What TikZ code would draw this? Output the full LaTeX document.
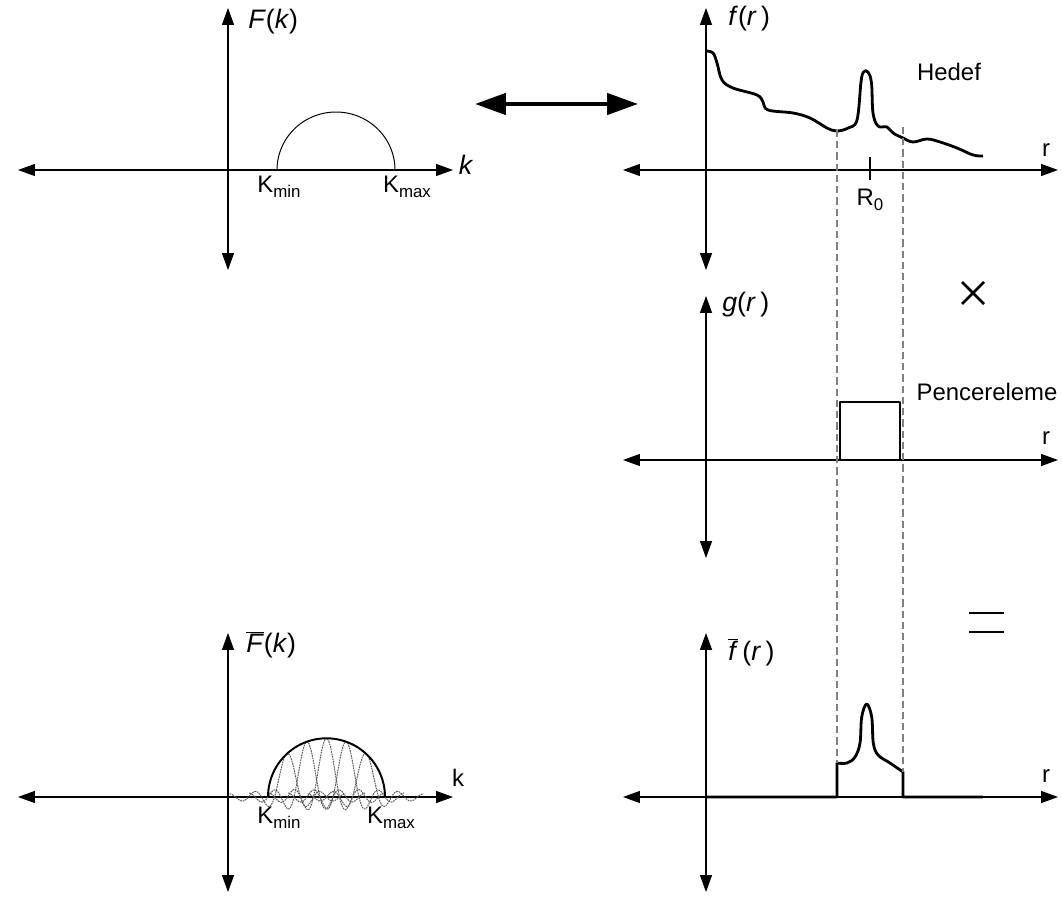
\documentclass[tikz,border=0pt]{standalone}
\usepackage{fontspec}
\setmainfont{Liberation Sans}
\usetikzlibrary{arrows.meta}

\newcommand{\Ksub}[1]{K\raisebox{-0.4ex}{\fontsize{12}{12}\selectfont #1}}

\tikzset{
  axis/.style={line width=0.8pt, {Triangle[length=12pt,width=8.5pt]}-{Triangle[length=12pt,width=8.5pt]}},
  signal/.style={line width=2pt, line join=round},
  window/.style={gray, dash pattern=on 5pt off 3pt, line width=0.8pt},
  sincline/.style={black!65, dash pattern=on 1.2pt off 0.6pt, line width=0.7pt},
  opline/.style={line width=1.8pt},
  lbl/.style={font=\fontsize{17}{18}\selectfont, inner sep=0pt},
  biglbl/.style={font=\fontsize{19}{20}\selectfont, inner sep=0pt},
}

\begin{document}
\begin{tikzpicture}[x=0.025cm, y=0.025cm]
\useasboundingbox (0,0) rectangle (1063,896);

% F(k)
\begin{scope}[shift={(228,726)}]
  \draw[axis] (-210,0) -- (225,0);
  \draw[axis] (0,-100) -- (0,162);
  \draw[line width=0.7pt] plot[domain=0:180, samples=60] ({108+59*cos(\x)},{58*sin(\x)});
  \node[biglbl, anchor=west] (Fk) at (20,148) {\textit{F}(\textit{k})};
  \node[biglbl] (kTL) at (238,5) {\textit{k}};
  \node[lbl] (kminTL) at (51,-17) {\Ksub{min}};
  \node[lbl] (kmaxTL) at (179,-17) {\Ksub{max}};
\end{scope}

% f(r)
\begin{scope}[shift={(706,726)}]
  \draw[axis] (-83,0) -- (352,0);
  \draw[axis] (0,-100) -- (0,162);
  \draw[signal] plot[smooth, tension=0.6] coordinates {(0,119) (7,117) (11,107) (16,90) (27,82)
    (51,75) (57,68) (62,60) (87,57) (104,52) (121,42) (131,39) (142,42) (151,50) (155,88)
    (157.5,98) (162,98) (165.5,87) (167,57) (172,44) (181,43) (187,37) (197,32) (207,28)
    (221,31) (234,28) (251,22) (267,15) (277,14)};
  \draw[line width=1.6pt] (164,13) -- (164,-10);
  \node[biglbl, anchor=west] (fr) at (22,151) {\textit{f}(\textit{r}\,)};
  \node[lbl] (hedef) at (243,98) {Hedef};
  \node[lbl] (rTR) at (340,20) {r};
  \node[lbl] (Rzero) at (164,-30) {R\raisebox{-0.4ex}{\fontsize{12}{12}\selectfont 0}};
\end{scope}

% g(r)
\begin{scope}[shift={(706,436)}]
  \draw[axis] (-83,0) -- (352,0);
  \draw[axis] (0,-98) -- (0,164);
  \draw[signal] (134,0) -- (134,58) -- (194,58) -- (194,0);
  \node[biglbl, anchor=west] (gr) at (16,155) {\textit{g}(\textit{r}\,)};
  \node[lbl] (pencere) at (281,68) {Pencereleme};
  \node[lbl] (rMR) at (340,22) {r};
\end{scope}

% Fbar(k)
\begin{scope}[shift={(228,99)}]
  \draw[axis] (-210,0) -- (225,0);
  \draw[axis] (0,-95) -- (0,164);
  \foreach \ctr in {-39,-19.5,0,19.5,39}
    \draw[sincline] plot[domain=-4.45:4.45, samples=90]
      ({98.5+(\ctr)+13*\x},{58.7*sqrt(1-((\ctr)/58.5)^2)*sin(180*\x)/(pi*\x)});
  \draw[line width=1.4pt] plot[domain=0:180, samples=60] ({98.5+58.5*cos(\x)},{58.7*sin(\x)});
  \node[biglbl, anchor=west] (Fbar) at (18,152) {$\overline{\mbox{\textit{F}}}$(\textit{k})};
  \node[lbl] (kBL) at (230,19) {k};
  \node[lbl] (kminBL) at (51,-21) {\Ksub{min}};
  \node[lbl] (kmaxBL) at (163,-21) {\Ksub{max}};
\end{scope}

% fbar(r)
\begin{scope}[shift={(706,99)}]
  \draw[axis] (-83,0) -- (352,0);
  \draw[axis] (0,-95) -- (0,164);
  \draw[signal] (0,0) -- (131,0) -- (131,34) -- plot[smooth, tension=0.6] coordinates {(131,34)
    (141,34) (149,40) (154,54) (155.7,80) (160.7,93) (165.7,80) (167.3,54) (172,42) (184,34)
    (197,25)} -- (197,0) -- (277,0);
  \node[biglbl, anchor=west] (fbar) at (22,145) {$\overline{\mbox{\textit{f}}}$\,(\textit{r}\,)};
  \node[lbl] (rBR) at (340,21) {r};
\end{scope}

% window edges
\coordinate (wlTop) at (837,766);
\coordinate (wlBot) at (837,133);
\coordinate (wrTop) at (903,769);
\coordinate (wrBot) at (903,124);
\draw[window] (wlTop) -- (wlBot);
\draw[window] (wrTop) -- (wrBot);

% transform pair
\coordinate (pairL) at (475,792);
\coordinate (pairR) at (638,792);
\draw[line width=3pt, {Triangle[length=22pt,width=15pt]}-{Triangle[length=22pt,width=15pt]}] (pairL) -- (pairR);

% times and equals
\draw[opline] (962,614) -- (984,592) (962,592) -- (984,614);
\draw[opline] (969,283) -- (1004,283) (969,264) -- (1004,264);
\end{tikzpicture}
\end{document}
